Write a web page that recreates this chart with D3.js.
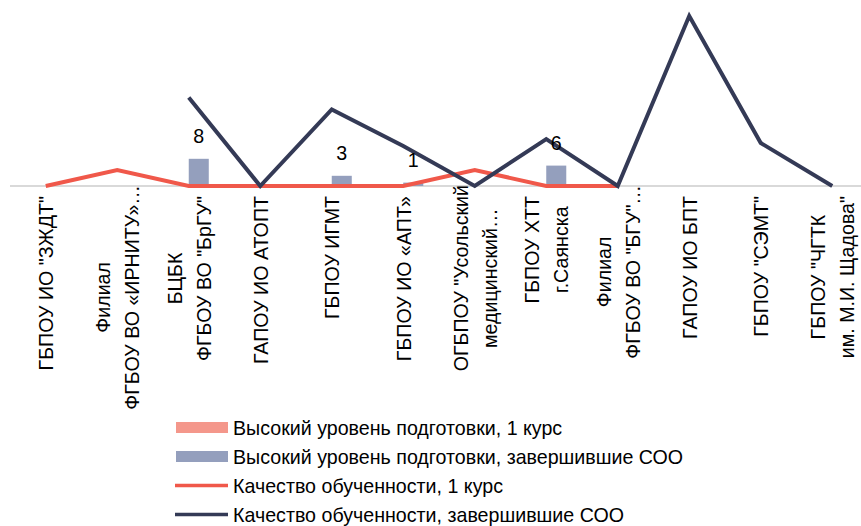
<!DOCTYPE html>
<html><head><meta charset="utf-8">
<script src="https://cdn.jsdelivr.net/npm/d3@7"></script>
<style>html,body{margin:0;padding:0;background:#fff;overflow:hidden;} svg{display:block;}</style>
</head><body>
<svg id="chart" width="861" height="526"></svg>
<script>
// ---- data ----
const categories = [
  'ГБПОУ ИО "ЗЖДТ"',
  'Филиал\nФГБОУ ВО «ИРНИТУ»…',
  'БЦБК\nФГБОУ ВО "БрГУ"',
  'ГАПОУ ИО АТОПТ',
  'ГБПОУ ИГМТ',
  'ГБПОУ ИО «АПТ»',
  'ОГБПОУ "Усольский\nмедицинский…',
  'ГБПОУ ХТТ\nг.Саянска',
  'Филиал\nФГБОУ ВО "БГУ"…',
  'ГАПОУ ИО БПТ',
  'ГБПОУ "СЭМТ"',
  'ГБПОУ "ЧГТК\nим. М.И. Щадова"'
];
const highLevel1 = [null, null, null, null, null, null, null, null, null, null, null, null];
const highLevelSOO = [null, null, 8, null, 3, 1, null, 6, null, null, null, null];
const quality1 = [0, 9.4, 0, 0, 0, 0, 9.4, 0, 0, null, null, null];
const qualitySOO = [null, null, 52, 0, 45, 23.5, 0, 27.6, 0, 100, 25.3, 0];
const seriesNames = [
  "Высокий уровень подготовки, 1 курс",
  "Высокий уровень подготовки, завершившие СОО",
  "Качество обученности, 1 курс",
  "Качество обученности, завершившие СОО"
];

// ---- style ----
const FONT = '"Liberation Sans Narrow", "Arial Narrow", "Liberation Sans", Arial, sans-serif';
const FS = 21;
const NARROW = 0.935; // condense glyphs like a narrow face
const colPink = "#f4978b", colBlue = "#949fbd", colRed = "#f0584a", colDark = "#343a56";

const svg = d3.select("#chart");
const baseY = 186, topY = 16;

function narrow(sel) {
  sel.each(function() {
    const L = this.getComputedTextLength();
    d3.select(this).attr("textLength", L * NARROW).attr("lengthAdjust", "spacingAndGlyphs");
  });
  return sel;
}

const x0 = d3.scaleBand().domain(categories).range([10, 868]).paddingInner(0.44).paddingOuter(0.22);
const x1 = d3.scaleBand().domain(["a", "b"]).range([0, x0.bandwidth()]);
const yBar = d3.scaleLinear().domain([0, 50]).range([baseY, topY]);
const yLine = d3.scaleLinear().domain([0, 100]).range([baseY, topY]);
const cx = c => x0(c) + x0.bandwidth() / 2;

// baseline gridline
svg.append("line").attr("x1", 10).attr("x2", 861).attr("y1", yBar(0)).attr("y2", yBar(0))
  .attr("stroke", "#d9d9d9").attr("stroke-width", 2);

// bars
const barData = [];
categories.forEach((c, i) => {
  if (highLevel1[i] != null) barData.push({c, k: "a", v: highLevel1[i], col: colPink});
  if (highLevelSOO[i] != null) barData.push({c, k: "b", v: highLevelSOO[i], col: colBlue});
});
svg.append("g").selectAll("rect").data(barData).join("rect")
  .attr("x", d => x0(d.c) + x1(d.k)).attr("width", x1.bandwidth())
  .attr("y", d => yBar(d.v)).attr("height", d => yBar(0) - yBar(d.v))
  .attr("fill", d => d.col);

// lines
function drawLine(vals, col) {
  const line = d3.line().defined(d => d.v != null).x(d => cx(d.c)).y(d => yLine(d.v));
  svg.append("path").datum(categories.map((c, i) => ({c, v: vals[i]})))
    .attr("d", line).attr("fill", "none").attr("stroke", col).attr("stroke-width", 4)
    .attr("stroke-linejoin", "miter");
}
drawLine(quality1, colRed);
drawLine(qualitySOO, colDark);

// bar labels
narrow(svg.append("g").selectAll("text").data(barData).join("text")
  .attr("x", d => x0(d.c) + x1(d.k) + x1.bandwidth() / 2)
  .attr("y", d => yBar(d.v) - 16)
  .attr("text-anchor", "middle").attr("font-family", FONT).attr("font-size", FS).attr("fill", "#000")
  .text(d => d.v));

// x axis
const axis = svg.append("g").attr("transform", `translate(0,${baseY})`)
  .call(d3.axisBottom(x0).tickSize(0).tickFormat(""));
axis.select(".domain").remove();
const overflow = 11;
axis.selectAll(".tick").each(function(c) {
  const g = d3.select(this).append("g");
  const lines = c.split("\n");
  const n = lines.length;
  const ts = g.selectAll("text").data(lines).join("text")
    .attr("font-family", FONT).attr("font-size", FS).attr("fill", "#000")
    .attr("text-anchor", "middle").attr("x", 0)
    .attr("y", (s, i) => 7.5 + (i - (n - 1) / 2) * 29).text(s => s);
  narrow(ts);
  const maxLen = d3.max(ts.nodes(), nd => +nd.getAttribute("textLength"));
  const trunc = lines.some(s => s.endsWith("…"));
  const top = 10 - (trunc ? overflow : 0);
  g.attr("transform", `translate(0,${top + maxLen / 2}) rotate(-90)`);
});

// legend
const lg = svg.append("g");
seriesNames.forEach((name, i) => {
  const yy = 428 + i * 29;
  if (i < 2) {
    lg.append("rect").attr("x", 176).attr("y", yy - 6).attr("width", 52).attr("height", 11)
      .attr("fill", i === 0 ? colPink : colBlue);
  } else {
    lg.append("line").attr("x1", 175).attr("x2", 228).attr("y1", yy - 0.5).attr("y2", yy - 0.5)
      .attr("stroke", i === 2 ? colRed : colDark).attr("stroke-width", 3.5);
  }
  narrow(lg.append("text").attr("x", 233).attr("y", yy + 7).attr("font-family", FONT).attr("font-size", FS)
    .attr("fill", "#000").text(name));
});
</script>
</body></html>
